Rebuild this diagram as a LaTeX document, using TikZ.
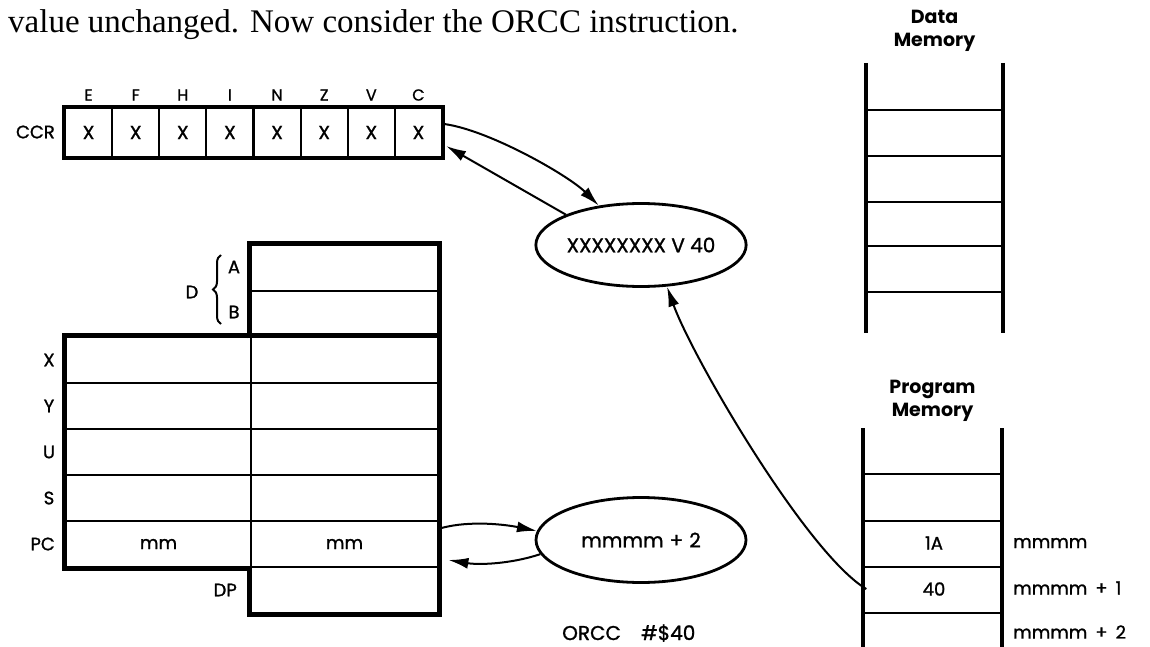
\documentclass[tikz,border=0pt]{standalone}
\usepackage{fontspec}
\setmainfont{Liberation Serif}
\newfontfamily\labfont{Poppins}[FakeBold=1.2]
\newfontfamily\labbold{Poppins}
\usetikzlibrary{shapes.geometric,arrows.meta,decorations.pathreplacing,calc}
\tikzset{
  lbl/.style={font=\labfont\fontsize{18}{21}\selectfont, inner sep=0pt},
  flag/.style={font=\labfont\fontsize{16}{19}\selectfont, inner sep=0pt},
  ccrcell/.style={draw, line width=2.2pt, minimum width=47.1pt, minimum height=49pt, inner sep=0pt, font=\labfont\fontsize{19}{22}\selectfont},
  regcell/.style={draw, line width=2.8pt, minimum height=46pt, inner sep=0pt, lbl},
  outerline/.style={line width=4.5pt},
  memside/.style={line width=4.8pt},
  memline/.style={line width=2.8pt},
  arr/.style={line width=2pt, -{Latex[length=20pt,width=11pt]}},
  oval/.style={draw, ellipse, line width=2.8pt, inner sep=0pt, font=\labfont\fontsize{20}{24}\selectfont},
  memlab/.style={inner sep=0pt, font=\labbold\bfseries\fontsize{19}{23}\selectfont, align=center},
}
\begin{document}
\begin{tikzpicture}[x=1pt,y=-1pt]
\useasboundingbox (0,0) rectangle (1150,647);
\node[anchor=base west, inner sep=0pt, font=\fontsize{33}{36}\selectfont] (intro) at (8,33) {value unchanged. Now consider the ORCC instruction.};

% CCR
\foreach \i/\f in {1/E,2/F,3/H,4/I,5/N,6/Z,7/V,8/C} {
  \node[ccrcell] (c\i) at ({65+47.125*(\i-0.5)},132.5) {X};
  \node[flag] (f\i) at ({65+47.125*(\i-0.5)},95) {\f};
}
\draw[outerline] (c1.north west) rectangle (c8.south east);
\node[lbl, anchor=east] (ccr) at (55,132) {CCR};

% registers
\node[regcell, minimum width=187pt] (A) at (344.5,268) {};
\node[regcell, minimum width=187pt] (B) at (344.5,314) {};
\foreach \n/\y in {X/360, Y/406, U/452, S/498} {
  \node[regcell, minimum width=185pt] (\n L) at (158.5,\y) {};
  \node[regcell, minimum width=187pt] (\n R) at (344.5,\y) {};
  \node[lbl] (\n lab) at (49,\y) {\n};
}
\node[regcell, minimum width=185pt] (PCL) at (158.5,544) {mm};
\node[regcell, minimum width=187pt] (PCR) at (344.5,544) {mm};
\node[regcell, minimum width=187pt] (DP) at (344.5,590) {};
\node[lbl, anchor=east] (pclab) at (55,544) {PC};
\node[lbl, anchor=east] (dplab) at (237,590) {DP};
\node[lbl] (alab) at (234,267) {A};
\node[lbl] (blab) at (234,312) {B};
\node[lbl] (dlab) at (192,292) {D};
\draw[line width=2pt, decorate, decoration={brace, amplitude=8pt}] (221,324) -- (221,255);
\draw[outerline, line join=miter] (B.south west) -- (A.north west) -- (A.north east) -- (DP.south east) -- (DP.south west) -- (DP.south west |- PCL.south east) -- (PCL.south west) -- (XL.north west) -- (XR.north east);

% data memory
\node[memlab] (dmlab) at (934.5,31) {Data\\Memory};
\draw[memside] (866,63) -- (866,333);
\draw[memside] (1003,63) -- (1003,333);
\foreach \y in {110,156,202,246,292} \draw[memline] (868,\y) -- (1001,\y);

% program memory
\node[memlab] (pmlab) at (932.5,401) {Program\\Memory};
\draw[memside] (863,428) -- (863,647);
\draw[memside] (1002,428) -- (1002,647);
\foreach \y in {474,521,567,613} \draw[memline] (865,\y) -- (1000,\y);
\node[lbl, minimum width=135pt, minimum height=44pt] (pm1) at (934,543) {1A};
\node[lbl, minimum width=135pt, minimum height=44pt] (pm2) at (934,589) {40};
\node[lbl, anchor=west] (ad0) at (1013,543) {mmmm};
\node[lbl, anchor=west] (ad1) at (1013,588) {mmmm\hspace{8pt}+\hspace{8pt}1};
\node[lbl, anchor=west] (ad2) at (1013,632) {mmmm\hspace{8pt}+\hspace{8pt}2};

% ellipses
\node[oval, minimum width=210pt, minimum height=83pt] (e1) at (641,245) {XXXXXXXX V 40};
\node[oval, minimum width=210pt, minimum height=85pt] (e2) at (641,540) {mmmm\hspace{6pt}+\hspace{6pt}2};
\node[lbl, anchor=west, font=\labfont\fontsize{20}{24}\selectfont] (orcc) at (562,633) {ORCC\hspace{20pt}\#\$40};

% connectors
\coordinate (ccrA) at ($(c8.east)+(1,-8.5)$);
\coordinate (ccrB) at ($(c8.east)+(3,13.5)$);
\coordinate (pcA) at ($(PCR.east)+(2,-16)$);
\coordinate (pcB) at ($(PCR.east)+(9,16)$);
\draw[arr] (ccrA) .. controls +(45,6) and +(-30,-30) .. (e1.137);
\draw[arr] (e1.158) -- (ccrB);
\draw[arr] (pcA) .. controls +(30,-8) and +(-30,-6) .. (e2.175);
\draw[arr] (e2.188) .. controls +(-30,10) and +(30,5) .. (pcB);
\draw[arr] (pm2.west) .. controls +(-60,-36) and +(25,70) .. (e1.-58);
\end{tikzpicture}
\end{document}
